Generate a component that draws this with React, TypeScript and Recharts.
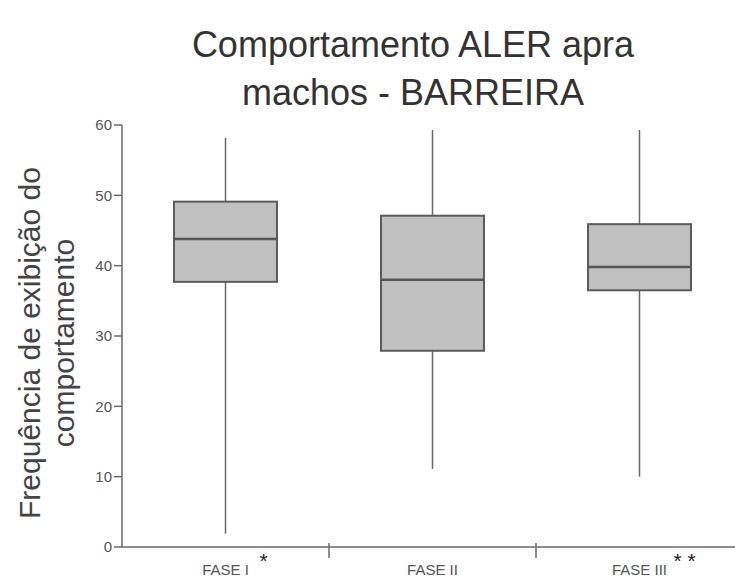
import { ComposedChart, Bar, XAxis, YAxis } from 'recharts';

// Boxplot values
const phases = ['FASE I', 'FASE II', 'FASE III'];
const marks = ['*', '', '* *'];
const mins = [1.9, 11.1, 10.0];
const q1s = [37.7, 27.9, 36.5];
const medians = [43.8, 38.0, 39.8];
const q3s = [49.1, 47.1, 45.9];
const maxs = [58.2, 59.3, 59.3];
const yTicks = [0, 10, 20, 30, 40, 50, 60];

const data = phases.map((name, i) => ({
  name,
  mark: marks[i],
  range: [mins[i], maxs[i]],
  min: mins[i],
  q1: q1s[i],
  median: medians[i],
  q3: q3s[i],
  max: maxs[i],
}));

const LINE = '#6a6a6a';
const FONT = '"Liberation Sans", Arial, sans-serif';

// draws whisker + box inside the [min, max] range bar
const BoxShape = (props: any) => {
  const { x, y, width, height, payload } = props;
  const top = Math.min(y, y + height);
  const bottom = Math.max(y, y + height);
  const { min, max, q1, median, q3 } = payload;
  const toY = (v: number) => bottom - ((bottom - top) * (v - min)) / (max - min);
  const cx = x + width / 2;
  return (
    <g>
      <line x1={cx} x2={cx} y1={top} y2={bottom} stroke={LINE} strokeWidth={1.5} />
      <rect
        x={x}
        y={toY(q3)}
        width={width}
        height={toY(q1) - toY(q3)}
        fill="#c0c0c0"
        stroke="#5c5c5c"
        strokeWidth={2}
      />
      <line x1={x} x2={x + width} y1={toY(median)} y2={toY(median)} stroke="#555" strokeWidth={2.5} />
    </g>
  );
};

const PhaseTick = (props: any) => {
  const { x, y, payload, index, width, visibleTicksCount } = props;
  const half = payload.offset ?? width / visibleTicksCount / 2;
  const mark = marks[index];
  return (
    <g>
      {index < phases.length - 1 && (
        <line x1={x + half} x2={x + half} y1={y - 4} y2={y + 11} stroke={LINE} strokeWidth={1.5} />
      )}
      <text x={x} y={y + 28} textAnchor="middle" fill="#555" fontSize={15} fontFamily={FONT}>
        {payload.value}
      </text>
      {mark && (
        <text x={x + 34} y={y + 21} textAnchor="start" fill="#222" fontSize={21} fontFamily={FONT}>
          {mark}
        </text>
      )}
    </g>
  );
};

export default function App() {
  return (
    <div style={{ position: 'absolute', left: 0, top: 0, width: 735, height: 579, background: '#fff', fontFamily: FONT }}>
      <div
        style={{
          position: 'absolute',
          left: 122,
          width: 582,
          top: 21,
          textAlign: 'center',
          fontSize: 36,
          lineHeight: '48px',
          color: '#333',
        }}
      >
        Comportamento ALER apra
        <br />
        machos - BARREIRA
      </div>
      <div
        style={{
          position: 'absolute',
          left: 47 - 200,
          top: 343 - 34,
          width: 400,
          height: 68,
          transform: 'rotate(-90deg)',
          textAlign: 'center',
          fontSize: 30,
          lineHeight: '34px',
          color: '#444',
          whiteSpace: 'nowrap',
        }}
      >
        Frequência de exibição do
        <br />
        comportamento
      </div>
      <ComposedChart
        width={735}
        height={579}
        data={data}
        margin={{ top: 125, right: -8, bottom: 0, left: 82 }}
        style={{ position: 'absolute', left: 0, top: 0 }}
      >
        <XAxis
          dataKey="name"
          height={32}
          tickLine={false}
          tickSize={0}
          tickMargin={0}
          axisLine={{ stroke: LINE, strokeWidth: 1.5 }}
          tick={<PhaseTick />}
          interval={0}
        />
        <YAxis
          type="number"
          domain={[0, 60]}
          ticks={yTicks}
          width={40}
          tickSize={8}
          tickMargin={2}
          axisLine={{ stroke: LINE, strokeWidth: 1.5 }}
          tickLine={{ stroke: LINE, strokeWidth: 1.5 }}
          tick={{ fill: '#555', fontSize: 15, fontFamily: FONT }}
        />
        <Bar dataKey="range" barSize={103} shape={<BoxShape />} isAnimationActive={false} />
      </ComposedChart>
    </div>
  );
}
